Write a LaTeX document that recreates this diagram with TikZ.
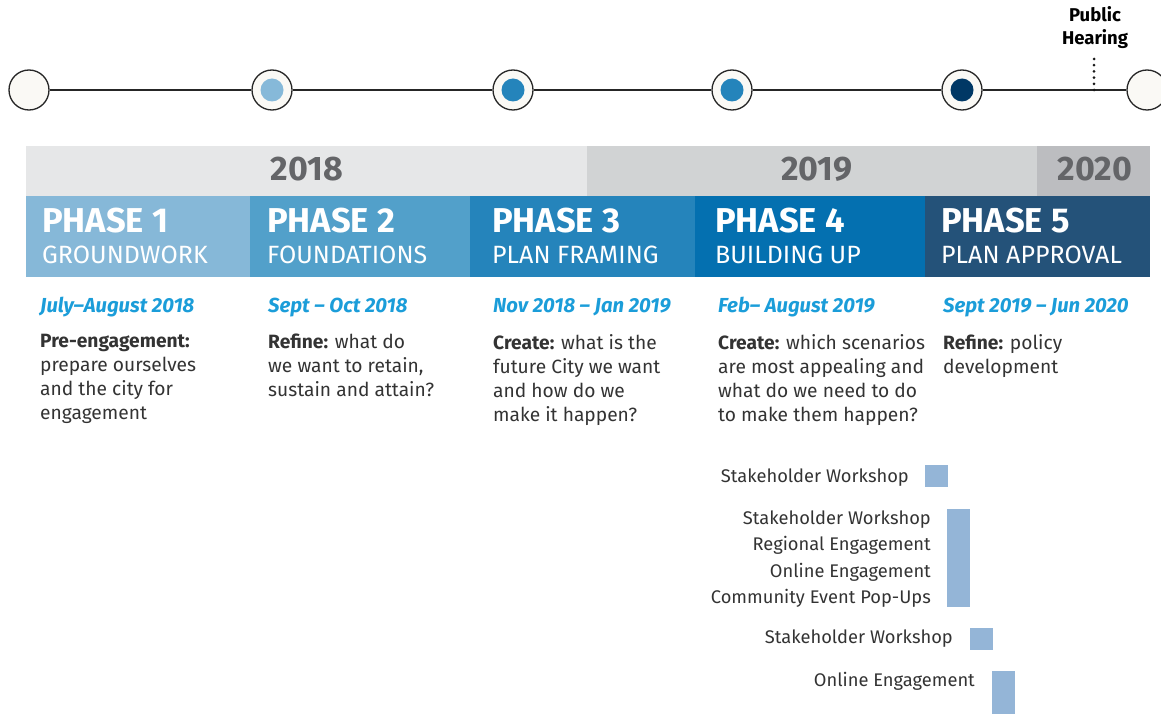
\documentclass[tikz,border=0pt]{standalone}
\usepackage{fontspec}
\setmainfont{Fira Sans}
\definecolor{yA}{HTML}{E6E7E8}
\definecolor{yB}{HTML}{D1D3D4}
\definecolor{yC}{HTML}{BCBDC0}
\definecolor{ytext}{HTML}{646568}
\definecolor{pA}{HTML}{86B8D8}
\definecolor{pB}{HTML}{52A0CA}
\definecolor{pC}{HTML}{2584BB}
\definecolor{pD}{HTML}{0470B0}
\definecolor{pE}{HTML}{245279}
\definecolor{dotA}{HTML}{86B9D9}
\definecolor{dotB}{HTML}{2484BB}
\definecolor{dotC}{HTML}{003865}
\definecolor{datec}{HTML}{1B9DD9}
\definecolor{barc}{HTML}{94B5D7}
\definecolor{ring}{HTML}{FAF9F5}
\definecolor{bodyc}{HTML}{333333}
\tikzset{
  ms/.style={circle, draw=black!85, line width=1.3pt, fill=ring, minimum size=40pt, inner sep=0pt},
  msdot/.style={circle, fill=#1, minimum size=23pt, inner sep=0pt},
  yeartxt/.style={anchor=base, inner sep=0pt, text=ytext, font=\fontsize{34}{34}\selectfont\bfseries},
  phtitle/.style={anchor=base west, inner sep=0pt, text=white, font=\fontsize{34.5}{34.5}\selectfont\bfseries},
  phsub/.style={anchor=base west, inner sep=0pt, text=white, font=\fontsize{25}{25}\selectfont},
  datetxt/.style={anchor=base west, inner sep=0pt, text=datec, font=\fontsize{20.3}{20.3}\selectfont\bfseries\itshape},
  bodytxt/.style={anchor=north west, inner sep=0pt, text=bodyc, align=left, font=\fontsize{19.2}{24}\selectfont},
  lbl/.style={anchor=base east, inner sep=0pt, text=bodyc, font=\fontsize{18.3}{18.3}\selectfont},
  bar/.style={fill=barc, draw=none}
}
\begin{document}
\begin{tikzpicture}[x=1pt,y=-1pt]
\useasboundingbox (0,0) rectangle (1161,714);
% timeline
\node[ms] (c1) at (29,90) {};
\node[ms] (c2) at (272,90) {};
\node[ms] (c3) at (513,90) {};
\node[ms] (c4) at (732,90) {};
\node[ms] (c5) at (962,90) {};
\node[ms] (c6) at (1147,90) {};
\draw[line width=1.3pt, black!85] (c1) -- (c2) (c2) -- (c3) (c3) -- (c4) (c4) -- (c5) (c5) -- (c6);
\node[msdot=dotA] (d2) at (c2) {};
\node[msdot=dotB] (d3) at (c3) {};
\node[msdot=dotB] (d4) at (c4) {};
\node[msdot=dotC] (d5) at (c5) {};
\node[align=center, inner sep=0pt, font=\fontsize{18.5}{23}\selectfont\bfseries, anchor=north] (ph) at (1095,6) {Public\\Hearing};
\coordinate (pht) at (1094,59);
\coordinate (phl) at (1094,90);
\draw[line width=3pt, dash pattern=on 0pt off 6.2pt, line cap=round, black!90] (pht) -- (phl);
% years
\fill[yA] (26,146) rectangle (587,196);
\fill[yB] (587,146) rectangle (1037,196);
\fill[yC] (1037,146) rectangle (1150,196);
\node[yeartxt] (y18) at (307,181) {2018};
\node[yeartxt] (y19) at (817,181) {2019};
\node[yeartxt] (y20) at (1095,181) {2020};
% phases
\fill[pA] (26,196) rectangle (250,277);
\fill[pB] (250,196) rectangle (470,277);
\fill[pC] (470,196) rectangle (695,277);
\fill[pD] (695,196) rectangle (925,277);
\fill[pE] (925,196) rectangle (1150,277);
\node[phtitle] (t1) at (42,233) {PHASE 1};
\node[phtitle] (t2) at (267,233) {PHASE 2};
\node[phtitle] (t3) at (492,233) {PHASE 3};
\node[phtitle] (t4) at (715,233) {PHASE 4};
\node[phtitle] (t5) at (941,233) {PHASE 5};
\node[phsub] (s1) at (42,263) {GROUNDWORK};
\node[phsub] (s2) at (267,263) {FOUNDATIONS};
\node[phsub] (s3) at (492,263) {PLAN FRAMING};
\node[phsub] (s4) at (715,263) {BUILDING UP};
\node[phsub] (s5) at (941,263) {PLAN APPROVAL};
% dates
\node[datetxt] (dt1) at (40,312) {July–August 2018};
\node[datetxt] (dt2) at (268,312) {Sept – Oct 2018};
\node[datetxt] (dt3) at (493,312) {Nov 2018 – Jan 2019};
\node[datetxt] (dt4) at (718,312) {Feb– August 2019};
\node[datetxt] (dt5) at (943,312) {Sept 2019 – Jun 2020};
% body
\node[bodytxt] (b1) at (40,334) {\textbf{Pre-engagement:}\\prepare ourselves\\and the city for\\engagement};
\node[bodytxt] (b2) at (268,334) {\textbf{Refine:} what do\\we want to retain,\\sustain and attain?};
\node[bodytxt] (b3) at (493,334) {\textbf{Create:} what is the\\future City we want\\and how do we\\make it happen?};
\node[bodytxt] (b4) at (718,334) {\textbf{Create:} which scenarios\\are most appealing and\\what do we need to do\\to make them happen?};
\node[bodytxt] (b5) at (943,334) {\textbf{Refine:} policy\\development};
% engagement bars
\fill[barc] (925,465) rectangle (948,487);
\fill[barc] (947,509) rectangle (970,607);
\fill[barc] (970,628) rectangle (993,650);
\fill[barc] (992,671) rectangle (1015,714);
\node[lbl] (l1) at (909,482) {Stakeholder Workshop};
\node[lbl] (l2) at (931,524) {Stakeholder Workshop};
\node[lbl] (l3) at (931,550) {Regional Engagement};
\node[lbl] (l4) at (931,577) {Online Engagement};
\node[lbl] (l5) at (931,603) {Community Event Pop-Ups};
\node[lbl] (l6) at (953,643) {Stakeholder Workshop};
\node[lbl] (l7) at (975,686) {Online Engagement};
\end{tikzpicture}
\end{document}
